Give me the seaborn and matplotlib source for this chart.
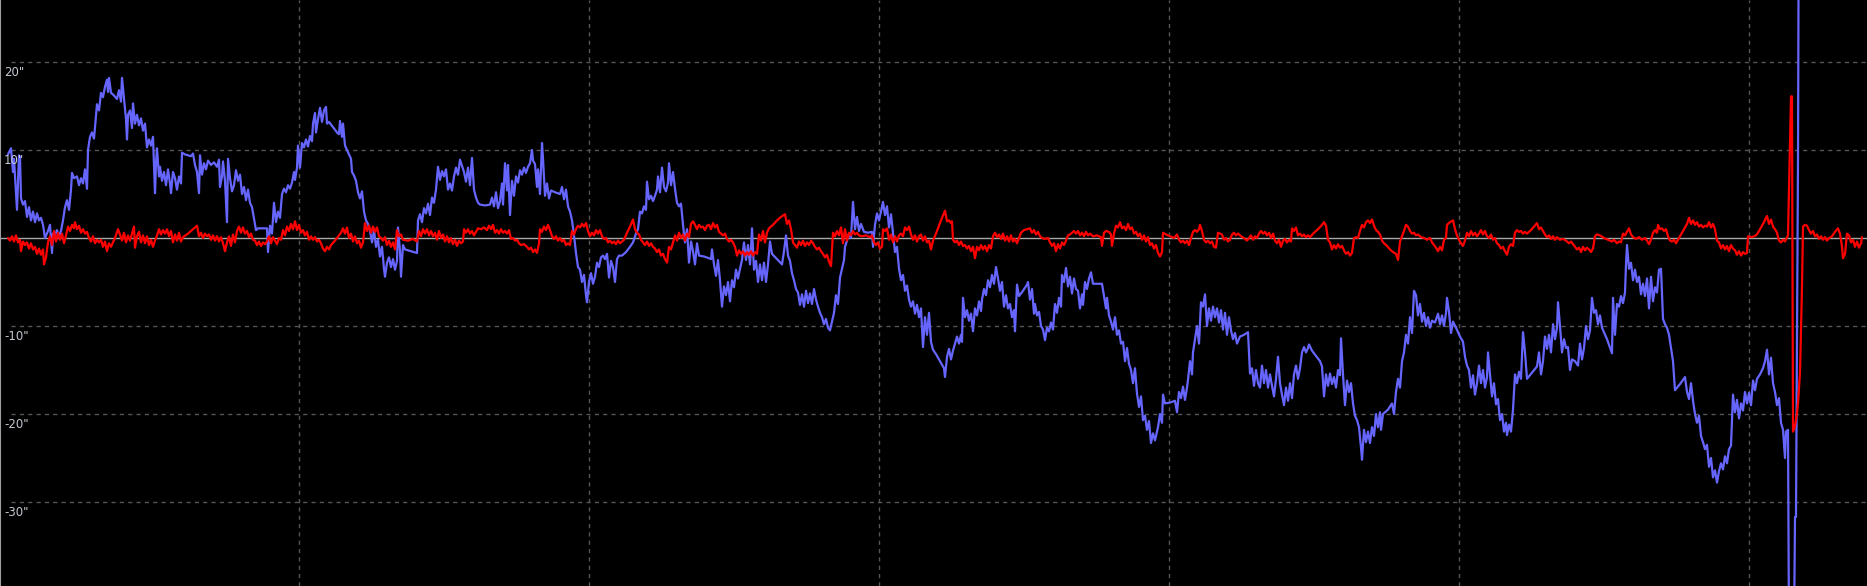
import matplotlib
matplotlib.use('Agg')
import matplotlib.pyplot as plt
import pandas as pd
import seaborn as sns

# guiding error traces: (sample position, offset in arc-seconds)
blue_pts = [
    (8, 9.5), (11, 10.2), (13, 7.5), (14, 9.0), (16, 5.0), (17, 3.2), (19, 9.4), (20, 9.2), (21, 4.5), (23, 3.8),
    (25, 4.2), (27, 2.4), (29, 3.5), (31, 2.0), (33, 3.0), (35, 1.8), (37, 2.8), (39, 2.0), (41, 2.3), (43, 1.5),
    (45, 0.0), (48, 0.8), (50, 1.5), (52, -1.7), (53, 0.5), (55, 0.3), (57, 0.9), (59, 0.2), (61, 0.8), (63, 2.0),
    (65, 3.5), (67, 4.3), (69, 3.2), (71, 5.5), (72, 7.4), (74, 6.8), (77, 7.0), (79, 6.0), (81, 6.8), (83, 6.2),
    (85, 7.8), (87, 5.6), (88, 10.0), (90, 11.5), (92, 12.0), (94, 11.3), (96, 14.0), (97, 15.2), (99, 14.5),
    (101, 16.5), (103, 16.0), (105, 17.2), (107, 18.0), (108, 16.6), (109, 18.2), (111, 16.5), (114, 16.2),
    (117, 15.8), (119, 16.8), (121, 15.5), (122, 18.2), (124, 15.8), (126, 13.5), (127, 11.2), (128, 14.0),
    (130, 14.5), (132, 12.5), (133, 15.3), (135, 13.0), (137, 14.0), (139, 12.8), (141, 13.6), (143, 12.2),
    (145, 13.0), (147, 10.3), (149, 11.2), (151, 10.5), (153, 11.5), (155, 5.1), (156, 8.5), (157, 10.2),
    (159, 7.0), (160, 8.1), (162, 6.5), (164, 7.5), (166, 6.0), (168, 7.8), (170, 6.2), (171, 5.1), (173, 7.5),
    (175, 6.8), (177, 5.5), (179, 7.0), (181, 6.2), (182, 9.7), (185, 9.5), (188, 9.4), (191, 9.3), (193, 9.6),
    (195, 8.3), (197, 7.5), (199, 5.1), (200, 9.4), (202, 7.2), (204, 8.5), (206, 7.8), (208, 8.8), (211, 8.3),
    (214, 8.6), (217, 8.1), (219, 8.9), (220, 5.8), (222, 7.0), (223, 8.7), (225, 6.5), (227, 1.8), (228, 9.0),
    (230, 6.8), (232, 5.3), (234, 6.0), (236, 7.7), (238, 6.5), (240, 7.2), (242, 5.0), (244, 5.8), (246, 4.3),
    (248, 5.5), (250, 4.0), (252, 3.5), (254, 2.2), (256, 0.9), (258, 1.1), (263, 1.1), (267, 1.1), (268, -1.6),
    (270, 1.4), (272, 0.5), (274, 4.0), (276, 1.8), (278, 3.0), (280, 2.3), (282, 5.0), (284, 5.6), (286, 5.2),
    (288, 6.0), (290, 5.6), (292, 6.3), (294, 7.5), (295, 6.6), (297, 8.0), (298, 10.5), (300, 8.0), (302, 10.8),
    (304, 10.3), (306, 11.2), (308, 10.4), (310, 11.6), (312, 11.0), (313, 13.0), (315, 14.2), (316, 12.0),
    (318, 13.5), (320, 14.8), (322, 13.2), (324, 14.5), (326, 14.9), (327, 13.0), (329, 13.2), (333, 12.6),
    (337, 12.0), (339, 11.8), (340, 13.3), (342, 11.5), (343, 13.0), (345, 10.5), (347, 10.0), (349, 9.5),
    (351, 9.0), (352, 7.5), (354, 7.1), (356, 6.5), (358, 5.2), (360, 4.5), (362, 5.3), (364, 3.0), (366, 2.0),
    (368, 1.6), (370, 0.8), (372, -0.5), (374, 0.9), (376, -1.0), (378, -0.2), (380, -2.1), (382, -1.0),
    (384, -3.5), (385, -4.4), (387, -2.8), (389, -2.2), (391, -3.3), (393, -2.4), (395, -3.6), (397, -2.6),
    (398, 1.2), (400, -1.5), (401, -4.4), (403, -0.8), (405, -1.3), (411, -1.5), (417, -1.7), (418, 2.0),
    (420, 2.7), (422, 1.8), (424, 3.4), (426, 2.8), (428, 3.9), (430, 2.6), (432, 4.6), (434, 4.0), (436, 5.5),
    (438, 8.1), (440, 6.6), (442, 7.6), (444, 7.0), (446, 7.8), (448, 5.5), (450, 6.2), (452, 5.4), (454, 7.0),
    (456, 8.0), (458, 7.2), (460, 8.9), (462, 8.2), (464, 7.5), (466, 6.4), (468, 8.0), (470, 6.0), (472, 9.1),
    (474, 5.5), (476, 4.6), (478, 4.0), (480, 3.8), (485, 3.7), (490, 3.8), (492, 4.6), (494, 3.6), (496, 5.2),
    (498, 3.4), (500, 4.2), (502, 6.2), (503, 3.8), (505, 8.5), (507, 5.4), (508, 8.3), (510, 2.6), (512, 6.5),
    (514, 4.8), (516, 7.0), (518, 6.3), (520, 7.7), (522, 7.2), (524, 8.0), (526, 7.4), (528, 8.1), (530, 8.5),
    (532, 10.0), (533, 8.8), (535, 8.4), (537, 5.8), (538, 7.8), (540, 5.0), (542, 10.8), (543, 9.0), (545, 4.8),
    (547, 6.2), (549, 4.5), (551, 5.4), (555, 5.2), (560, 5.0), (562, 5.8), (564, 4.4), (566, 5.5), (568, 3.6),
    (570, 3.0), (572, 2.0), (574, 0.3), (576, -1.7), (578, -3.3), (580, -3.6), (582, -5.0), (584, -4.2),
    (586, -6.5), (587, -7.3), (589, -5.0), (591, -4.0), (593, -5.2), (595, -4.4), (597, -2.8), (599, -3.3),
    (601, -2.2), (603, -2.0), (605, -2.4), (607, -1.8), (609, -4.5), (611, -2.6), (613, -3.3), (615, -5.0),
    (617, -2.4), (619, -2.0), (622, -2.0), (626, -1.6), (630, -1.0), (633, -0.5), (636, 0.5), (638, 1.0),
    (640, 3.0), (642, 2.8), (644, 3.6), (646, 3.2), (647, 6.4), (649, 4.4), (651, 4.8), (653, 4.2), (655, 4.8),
    (657, 5.5), (658, 7.0), (660, 5.2), (662, 8.0), (664, 5.8), (666, 5.3), (668, 6.3), (669, 8.5), (671, 6.0),
    (673, 7.5), (675, 5.6), (677, 4.0), (679, 3.6), (681, 3.9), (683, 1.5), (685, -0.5), (687, 1.0), (689, -2.8),
    (691, -0.4), (693, -1.5), (695, -3.0), (697, -0.6), (699, -2.0), (704, -2.1), (709, -2.3), (711, -2.4),
    (712, -1.3), (714, -3.0), (716, -4.3), (718, -2.5), (720, -4.8), (722, -7.8), (724, -5.5), (726, -6.5),
    (728, -5.0), (730, -7.2), (732, -4.8), (734, -5.6), (736, -3.6), (738, -4.6), (740, -3.5), (742, -2.5),
    (744, -0.5), (746, -2.5), (748, -0.8), (750, -3.0), (751, -1.2), (752, 1.1), (754, -3.6), (756, -2.6),
    (758, -5.0), (760, -3.0), (762, -4.8), (764, -2.8), (766, -5.0), (768, -3.0), (770, -0.4), (772, -1.8),
    (777, -2.4), (782, -3.0), (784, -1.5), (786, 0.3), (788, -2.0), (790, -2.6), (792, -4.0), (794, -4.8),
    (796, -5.8), (798, -6.2), (800, -7.6), (802, -6.4), (804, -7.8), (806, -6.0), (808, -7.4), (810, -6.3),
    (812, -7.5), (814, -5.8), (816, -7.0), (818, -7.8), (820, -8.5), (822, -9.0), (824, -9.8), (826, -9.2),
    (828, -10.2), (830, -10.5), (832, -9.5), (834, -8.5), (836, -6.5), (838, -7.5), (840, -4.5), (842, -3.5),
    (844, -2.5), (845, -1.0), (847, -0.3), (849, 0.5), (851, 0.0), (853, 4.1), (855, 1.0), (857, 2.4), (859, 0.8),
    (861, 1.6), (864, 0.7), (868, 0.6), (872, 0.7), (873, -1.0), (875, 1.5), (877, 2.8), (879, 2.0), (881, 3.0),
    (883, 4.1), (885, 2.6), (887, 3.6), (889, 1.2), (891, 2.7), (893, 0.5), (895, -1.6), (897, -1.0), (899, -3.5),
    (901, -4.8), (903, -4.2), (905, -6.0), (907, -5.4), (909, -7.0), (911, -7.8), (913, -7.2), (915, -8.6),
    (917, -7.6), (919, -9.0), (921, -8.0), (923, -12.4), (925, -9.0), (927, -11.0), (929, -8.5), (931, -11.8),
    (933, -12.7), (936, -13.2), (939, -13.8), (942, -14.4), (944, -14.8), (945, -15.8), (947, -13.5),
    (949, -12.6), (951, -13.8), (953, -12.8), (955, -12.0), (957, -11.2), (959, -12.0), (961, -11.0),
    (962, -11.8), (963, -6.8), (965, -9.0), (967, -8.2), (969, -9.4), (971, -8.6), (972, -9.6), (973, -10.6),
    (975, -8.0), (977, -8.8), (979, -7.2), (981, -8.3), (982, -7.0), (984, -5.8), (986, -6.5), (988, -4.8),
    (990, -5.6), (992, -4.2), (994, -5.2), (996, -3.3), (998, -4.6), (1000, -6.0), (1002, -5.0), (1004, -7.8),
    (1006, -6.5), (1008, -8.0), (1010, -7.5), (1012, -9.0), (1014, -8.2), (1015, -10.6), (1017, -5.3),
    (1019, -6.6), (1023, -6.0), (1027, -5.3), (1028, -5.0), (1030, -7.0), (1032, -5.8), (1034, -8.6),
    (1035, -7.5), (1037, -8.8), (1039, -8.4), (1041, -10.0), (1043, -10.4), (1045, -11.6), (1047, -10.2),
    (1049, -10.6), (1051, -9.6), (1053, -10.4), (1055, -7.5), (1057, -8.5), (1059, -6.8), (1061, -7.8),
    (1062, -4.2), (1064, -5.0), (1066, -3.4), (1068, -5.5), (1070, -4.4), (1072, -6.3), (1074, -4.6),
    (1076, -5.8), (1078, -6.0), (1080, -8.0), (1082, -6.4), (1083, -7.6), (1085, -5.0), (1087, -5.8),
    (1089, -4.6), (1091, -3.9), (1093, -5.2), (1098, -5.2), (1102, -5.2), (1104, -6.6), (1106, -8.0),
    (1107, -6.8), (1109, -8.8), (1111, -9.5), (1113, -10.4), (1115, -9.0), (1117, -11.0), (1119, -10.5),
    (1121, -12.0), (1123, -11.8), (1125, -14.0), (1127, -12.5), (1129, -14.3), (1131, -15.0), (1133, -16.5),
    (1135, -14.8), (1137, -17.7), (1139, -19.2), (1141, -18.0), (1143, -20.7), (1145, -20.2), (1147, -21.8),
    (1149, -20.8), (1151, -23.3), (1153, -22.2), (1155, -23.0), (1157, -22.0), (1158, -21.5), (1160, -20.0),
    (1162, -21.0), (1163, -17.8), (1165, -18.8), (1170, -18.7), (1175, -18.5), (1177, -19.8), (1179, -17.5),
    (1181, -18.2), (1183, -16.9), (1185, -18.4), (1187, -17.0), (1188, -16.1), (1190, -14.0), (1192, -15.5),
    (1193, -13.0), (1195, -11.5), (1197, -10.0), (1199, -12.0), (1200, -9.7), (1201, -7.3), (1203, -7.8),
    (1205, -6.4), (1207, -10.0), (1209, -8.0), (1211, -9.4), (1213, -7.8), (1215, -9.0), (1217, -8.0),
    (1219, -9.6), (1221, -8.2), (1223, -10.4), (1225, -8.5), (1227, -11.0), (1229, -9.0), (1231, -10.5),
    (1233, -11.5), (1235, -10.8), (1237, -12.0), (1240, -11.2), (1244, -11.0), (1248, -10.7), (1250, -15.4),
    (1252, -14.8), (1254, -16.8), (1256, -15.0), (1258, -16.5), (1260, -17.0), (1262, -14.5), (1264, -16.5),
    (1266, -15.0), (1268, -17.0), (1270, -15.5), (1272, -16.8), (1274, -18.0), (1276, -16.0), (1278, -13.5),
    (1280, -16.5), (1282, -17.8), (1284, -19.0), (1286, -17.0), (1288, -18.5), (1290, -16.5), (1292, -18.2),
    (1294, -15.5), (1296, -14.5), (1298, -16.0), (1300, -14.8), (1302, -13.0), (1304, -12.4), (1306, -13.0),
    (1308, -12.5), (1309, -12.1), (1312, -12.8), (1316, -13.4), (1320, -14.0), (1322, -14.6), (1324, -18.0),
    (1326, -15.5), (1328, -16.8), (1330, -15.4), (1332, -16.6), (1334, -15.8), (1336, -17.0), (1338, -15.0),
    (1340, -15.6), (1341, -11.4), (1343, -15.5), (1345, -19.0), (1347, -16.2), (1349, -17.5), (1351, -16.5),
    (1353, -18.8), (1355, -20.2), (1357, -20.7), (1359, -21.5), (1361, -23.8), (1362, -25.2), (1364, -21.8),
    (1366, -23.2), (1368, -22.0), (1370, -23.3), (1372, -21.5), (1374, -22.5), (1376, -20.0), (1378, -21.5),
    (1380, -19.8), (1381, -21.8), (1383, -20.0), (1388, -19.5), (1392, -18.8), (1394, -20.0), (1396, -17.5),
    (1398, -16.0), (1400, -17.0), (1402, -14.0), (1404, -13.0), (1406, -11.0), (1408, -12.0), (1410, -9.0),
    (1412, -10.8), (1414, -6.0), (1416, -6.5), (1418, -8.8), (1420, -7.5), (1422, -9.5), (1424, -8.5),
    (1426, -10.0), (1428, -9.0), (1430, -10.2), (1432, -9.4), (1435, -9.6), (1438, -8.6), (1440, -9.8),
    (1442, -8.8), (1444, -10.0), (1446, -8.5), (1447, -6.8), (1449, -8.4), (1451, -10.8), (1453, -9.5),
    (1456, -10.2), (1460, -11.2), (1463, -11.8), (1465, -13.5), (1467, -14.5), (1469, -15.0), (1471, -17.0),
    (1473, -15.6), (1475, -17.8), (1477, -16.5), (1479, -14.5), (1481, -16.5), (1483, -15.0), (1485, -17.0),
    (1487, -15.8), (1488, -13.0), (1490, -15.5), (1492, -18.0), (1494, -16.5), (1496, -18.9), (1498, -18.3),
    (1500, -20.7), (1502, -20.0), (1504, -22.0), (1506, -21.0), (1507, -22.4), (1509, -21.2), (1511, -22.0),
    (1513, -19.5), (1515, -15.5), (1517, -16.5), (1519, -15.2), (1521, -16.0), (1523, -10.7), (1525, -13.0),
    (1527, -16.0), (1532, -15.3), (1537, -14.6), (1539, -13.0), (1541, -15.5), (1543, -14.0), (1545, -11.2),
    (1547, -12.6), (1549, -11.0), (1551, -13.0), (1553, -9.8), (1555, -11.5), (1557, -10.2), (1558, -7.3),
    (1560, -10.0), (1562, -13.0), (1564, -11.5), (1566, -12.5), (1568, -12.4), (1570, -15.0), (1572, -13.8),
    (1575, -14.0), (1578, -14.5), (1580, -12.0), (1582, -13.8), (1584, -12.5), (1586, -10.0), (1588, -11.5),
    (1590, -10.5), (1592, -6.8), (1594, -8.5), (1596, -8.2), (1598, -9.8), (1600, -8.8), (1602, -10.2),
    (1607, -11.5), (1612, -13.1), (1613, -6.8), (1615, -11.0), (1617, -7.5), (1619, -7.8), (1621, -6.6),
    (1623, -7.4), (1625, -6.2), (1626, -3.0), (1627, -0.8), (1629, -3.5), (1631, -2.8), (1633, -4.8),
    (1635, -3.6), (1637, -5.0), (1639, -4.4), (1641, -6.4), (1643, -5.2), (1645, -6.6), (1647, -4.6),
    (1649, -8.0), (1651, -4.4), (1653, -7.2), (1655, -5.6), (1657, -6.2), (1659, -3.6), (1661, -3.5),
    (1663, -9.2), (1665, -9.8), (1667, -10.2), (1669, -11.0), (1671, -12.5), (1673, -14.0), (1675, -17.3),
    (1680, -16.6), (1685, -15.8), (1687, -17.5), (1689, -18.3), (1691, -16.5), (1693, -18.5), (1695, -20.0),
    (1697, -21.0), (1699, -20.2), (1701, -22.5), (1703, -23.2), (1705, -24.0), (1707, -23.5), (1709, -26.0),
    (1711, -25.0), (1713, -27.2), (1715, -26.4), (1717, -27.8), (1719, -26.5), (1721, -25.6), (1723, -26.3),
    (1725, -24.8), (1727, -25.6), (1729, -24.0), (1731, -23.6), (1733, -17.8), (1735, -19.8), (1737, -18.4),
    (1739, -20.5), (1741, -18.8), (1743, -19.6), (1745, -17.5), (1747, -18.8), (1749, -17.6), (1751, -19.0),
    (1753, -16.2), (1755, -17.3), (1757, -16.0), (1760, -15.5), (1763, -14.8), (1765, -14.0), (1767, -12.7),
    (1769, -15.5), (1771, -13.6), (1773, -16.5), (1775, -17.5), (1777, -19.0), (1779, -18.2), (1781, -21.0),
    (1783, -21.8), (1785, -25.0), (1786, -22.0), (1788, -21.8), (1789, -45.0), (1794, -45.0), (1795, -31.7),
    (1796, -31.7), (1797, -10.1), (1798, 9.1), (1799, 45.0),
]

red_pts = [
    (8, 0.0), (10, -0.3), (12, 0.2), (14, -0.4), (16, 0.3), (18, -0.5), (20, -0.2), (21, -1.5), (23, -0.4),
    (25, -0.8), (27, -0.5), (29, -1.2), (31, -0.6), (33, -1.3), (35, -1.0), (37, -1.8), (39, -1.2), (41, -1.9),
    (43, -1.3), (44, -3.0), (46, -2.2), (48, -0.5), (50, 0.2), (52, -0.8), (54, 0.8), (56, -0.4), (58, 0.6),
    (60, -0.2), (62, 0.5), (64, -0.6), (66, 0.3), (68, 1.3), (70, 0.8), (72, 1.5), (74, 1.1), (75, 1.8),
    (77, 1.0), (79, 1.4), (81, 0.6), (83, 1.0), (85, 0.5), (87, 0.7), (89, 0.0), (91, -0.4), (93, 0.2),
    (95, -0.6), (97, -0.2), (99, -0.5), (101, -0.2), (103, -1.0), (105, -0.4), (107, -1.5), (109, -0.6),
    (111, -1.0), (115, 0.0), (118, 1.0), (120, 0.4), (122, -0.3), (124, 0.6), (126, -0.5), (128, 0.3),
    (130, -0.3), (132, 0.5), (134, 1.3), (135, -1.1), (137, 0.2), (139, 0.7), (141, -0.5), (143, 0.3),
    (145, -0.6), (147, 0.2), (149, -0.8), (151, -0.2), (153, -1.0), (155, -0.3), (157, 0.3), (159, 1.0),
    (161, 0.4), (163, 0.9), (165, 0.5), (167, 1.0), (169, 0.2), (171, 0.8), (173, -0.5), (175, 0.4),
    (177, -0.3), (179, 0.6), (181, -0.4), (183, 0.1), (188, 0.5), (193, 1.0), (197, 1.4), (199, 0.2),
    (201, 0.6), (203, 0.0), (205, 0.5), (207, 0.2), (209, 0.4), (211, -0.2), (213, 0.3), (215, -0.3),
    (217, 0.2), (219, -0.4), (221, 0.1), (223, -0.6), (225, -1.5), (227, -0.5), (229, 0.2), (231, -0.9),
    (233, 0.4), (235, -0.5), (237, 0.8), (239, 1.3), (241, 0.6), (243, 1.2), (245, 0.5), (247, 0.8),
    (249, 0.1), (251, 0.5), (253, -0.2), (255, -0.3), (257, -0.8), (259, -0.4), (261, -0.9), (263, -0.5),
    (265, -0.7), (267, -0.4), (269, 0.2), (271, -0.6), (273, 0.1), (275, -0.3), (277, -0.7), (279, 0.0),
    (281, -0.2), (283, 0.9), (285, 0.3), (287, 1.3), (289, 0.8), (291, 1.6), (293, 1.0), (295, 1.9),
    (297, 0.9), (299, 1.5), (301, 0.6), (303, 0.9), (305, 0.3), (307, 0.7), (309, -0.2), (311, 0.2),
    (313, -0.2), (315, 0.1), (317, -0.4), (319, -0.2), (321, -0.6), (323, -1.2), (325, -1.5), (327, -1.0),
    (329, -1.3), (331, -0.8), (335, -0.3), (339, 0.3), (341, 0.6), (343, 1.1), (345, 0.5), (347, 1.2),
    (349, 0.0), (351, 0.5), (353, -0.4), (355, 0.2), (357, -0.6), (359, -0.3), (361, -1.1), (363, -0.5),
    (365, 1.7), (367, 0.8), (369, 1.4), (371, 0.6), (373, 1.3), (375, 0.7), (377, 1.2), (379, 0.2),
    (381, 0.0), (383, -0.3), (385, 0.1), (387, -0.8), (389, -0.3), (391, -1.0), (393, -0.5), (395, -1.3),
    (397, 0.9), (399, 0.2), (401, 0.4), (403, -0.2), (408, -0.3), (413, -0.1), (417, -0.4), (419, 0.8),
    (421, 0.2), (423, 1.0), (425, 0.5), (427, 1.0), (429, 0.3), (431, 0.8), (433, 0.2), (435, 0.6),
    (437, -0.2), (439, 0.8), (441, 0.0), (443, 0.4), (445, -0.4), (447, 0.2), (449, -0.5), (451, 0.0),
    (453, -0.7), (455, -0.2), (457, -0.9), (459, -0.3), (461, -0.6), (463, -0.4), (464, 1.0), (466, 0.6),
    (468, 1.0), (470, 0.5), (472, 0.8), (474, 0.3), (476, 0.7), (478, 1.1), (481, 1.0), (484, 1.2),
    (487, 0.9), (489, 1.4), (491, 1.0), (493, 1.5), (495, 0.6), (497, 0.9), (499, 0.5), (501, 1.0),
    (503, 0.6), (505, 0.8), (507, 0.5), (509, 0.9), (511, -0.1), (513, 0.0), (515, -0.3), (517, -0.2),
    (519, -0.6), (521, -0.8), (524, -0.7), (527, -1.0), (529, -1.3), (531, -1.1), (533, -1.6), (535, -1.3),
    (537, -1.7), (539, -0.6), (540, 1.0), (542, 0.7), (544, 1.3), (546, 0.9), (548, 1.5), (550, 0.9),
    (552, 0.2), (554, -0.1), (556, 0.2), (558, -0.3), (560, 0.0), (562, -0.4), (564, -0.2), (566, -0.8),
    (568, -0.6), (570, -0.8), (572, 0.8), (574, 0.4), (576, 1.0), (578, 1.4), (580, 1.2), (582, 1.6),
    (584, 1.3), (586, 1.7), (588, 0.8), (590, 0.2), (592, 0.6), (594, 0.3), (596, 0.9), (598, 0.5),
    (600, 0.9), (602, 0.2), (604, -0.1), (606, 0.0), (608, -0.5), (610, -0.3), (612, -0.6), (614, -0.4),
    (616, -0.7), (618, -0.3), (620, -0.6), (622, -0.4), (624, -0.2), (627, 0.6), (630, 1.3), (633, 2.1),
    (635, 1.0), (637, 0.6), (639, 0.4), (641, -0.2), (643, -0.5), (645, -0.8), (647, -0.4), (649, -0.9),
    (651, -0.6), (653, -1.0), (655, -1.2), (657, -1.6), (659, -1.3), (661, -2.0), (663, -1.8), (665, -2.4),
    (667, -2.8), (669, -1.0), (671, -1.3), (673, -0.5), (675, 0.3), (677, -0.3), (679, 0.6), (681, 0.0),
    (683, 0.4), (685, -0.3), (687, 0.5), (689, 0.1), (691, 1.6), (693, 1.9), (695, 1.5), (697, 1.0),
    (699, 1.5), (701, 1.2), (703, 1.3), (705, 0.9), (707, 1.4), (709, 1.5), (711, 1.0), (713, 1.7),
    (715, 1.2), (717, 1.5), (719, 0.7), (721, 0.5), (723, 0.3), (725, 0.5), (727, -0.1), (729, -0.4),
    (731, -0.2), (733, -0.5), (735, -1.0), (737, -2.0), (739, -1.4), (741, -1.8), (743, -1.5), (745, -2.0),
    (747, -1.6), (749, -1.9), (751, -1.5), (753, -2.0), (755, -1.6), (757, -1.8), (759, 0.4), (761, -0.3),
    (763, 0.8), (765, -0.5), (767, 0.6), (769, 1.1), (773, 1.5), (777, 2.0), (781, 2.4), (785, 2.7),
    (787, 1.6), (789, 2.0), (791, 1.0), (793, -0.5), (795, -0.8), (797, -1.1), (799, -0.4), (801, -0.8),
    (803, -0.3), (805, -0.9), (807, -0.5), (809, -0.8), (811, -0.3), (813, -0.6), (815, -1.0), (817, -1.3),
    (819, -1.1), (821, -1.5), (823, -1.8), (825, -2.2), (827, -1.9), (829, -2.7), (831, -3.2), (833, 0.6),
    (835, 0.2), (837, 0.8), (839, 0.3), (841, 1.2), (843, -0.6), (845, 1.0), (847, -0.3), (849, 0.6),
    (851, 0.3), (853, 0.8), (855, 0.4), (857, 0.6), (859, 0.3), (862, 0.2), (866, 0.3), (870, 0.1),
    (872, 0.3), (874, -0.5), (876, -0.8), (878, -0.5), (880, -1.2), (882, -1.0), (883, 1.0), (885, 0.8),
    (887, 1.1), (889, -0.2), (891, 0.4), (893, -0.5), (895, 0.2), (897, -0.4), (899, 0.3), (901, 0.5),
    (903, 0.2), (905, 1.2), (907, 0.9), (909, 1.3), (911, 0.4), (913, -0.2), (915, 0.3), (917, -0.4),
    (919, 0.2), (921, 0.4), (923, -0.3), (925, 0.2), (927, -0.5), (929, -0.3), (931, -1.3), (933, -0.3),
    (936, 0.5), (939, 1.4), (942, 2.3), (945, 3.1), (947, 1.9), (949, 2.0), (951, 1.7), (952, 1.9),
    (953, -0.2), (955, -0.5), (957, -0.3), (959, -0.8), (961, -0.4), (963, -0.9), (965, -0.8), (967, -1.2),
    (969, -0.9), (971, -1.5), (973, -1.0), (975, -2.3), (977, -1.0), (979, -1.4), (981, -0.8), (983, -1.3),
    (985, -0.9), (987, -1.5), (989, -0.8), (991, -1.2), (993, 0.2), (995, 0.6), (997, 0.1), (999, 0.4),
    (1001, -0.1), (1003, 0.5), (1005, -0.3), (1007, 0.2), (1009, -0.4), (1011, 0.3), (1013, -0.4),
    (1015, -0.1), (1017, -0.6), (1019, 0.0), (1021, 0.6), (1024, 0.9), (1027, 1.0), (1030, 1.1), (1032, 0.6),
    (1034, 0.9), (1036, 0.4), (1038, 0.7), (1040, 0.2), (1042, 0.0), (1045, -0.1), (1048, 0.0), (1050, -0.5),
    (1052, -0.9), (1054, -0.6), (1056, -1.5), (1058, -0.7), (1060, -1.2), (1062, -0.5), (1064, -0.8),
    (1066, -0.3), (1068, 0.3), (1070, 0.4), (1072, 0.6), (1074, 0.8), (1076, 0.5), (1078, 0.8), (1080, 0.3),
    (1082, 0.6), (1084, 0.2), (1086, 0.7), (1088, 0.3), (1090, 0.5), (1093, 0.2), (1097, 0.3), (1101, 0.1),
    (1102, -0.9), (1104, 0.6), (1106, 0.8), (1109, 0.7), (1111, 0.4), (1112, -0.9), (1114, 0.5), (1116, 1.4),
    (1118, 1.2), (1120, 1.8), (1122, 1.1), (1124, 1.3), (1126, 0.9), (1128, 1.6), (1130, 1.0), (1132, 1.2),
    (1134, 0.5), (1136, 0.7), (1138, 0.2), (1140, 0.5), (1142, -0.2), (1144, 0.3), (1146, -0.4), (1148, 0.1),
    (1150, -0.8), (1152, -0.6), (1154, -1.2), (1156, -0.8), (1158, -1.7), (1160, -2.1), (1162, -1.6),
    (1163, 0.6), (1166, 0.4), (1170, 0.2), (1174, 0.0), (1177, 0.4), (1179, -0.2), (1181, -0.5), (1183, -0.3),
    (1185, -0.6), (1187, -0.3), (1189, -0.8), (1191, 0.0), (1193, 0.7), (1195, 0.9), (1197, 0.7), (1199, 1.0),
    (1200, 1.5), (1202, 0.8), (1204, -0.2), (1206, -0.5), (1208, -0.3), (1210, -0.6), (1212, -0.4),
    (1214, -1.0), (1216, -1.1), (1218, 0.6), (1220, 0.5), (1222, 0.4), (1224, -0.2), (1226, 0.0), (1228, -0.4),
    (1230, -0.2), (1232, 0.4), (1234, 0.6), (1236, 0.3), (1238, 0.5), (1241, 0.2), (1244, 0.0), (1247, -0.3),
    (1249, 0.0), (1251, 0.3), (1253, -0.2), (1255, 0.2), (1257, 0.0), (1259, 0.5), (1261, 0.8), (1263, 0.5),
    (1265, 0.7), (1267, 0.3), (1269, 0.6), (1271, 0.0), (1273, 0.5), (1275, -0.3), (1277, -0.6), (1279, -0.2),
    (1281, -1.0), (1283, -0.3), (1285, -0.1), (1287, -0.5), (1289, -0.2), (1291, -0.4), (1292, 1.1),
    (1294, 0.8), (1296, 1.2), (1298, 0.3), (1300, 0.5), (1302, 0.2), (1304, 0.4), (1306, 0.1), (1308, 0.3),
    (1310, 0.1), (1314, 0.6), (1318, 1.0), (1322, 1.5), (1324, 1.8), (1326, 1.4), (1328, -0.2), (1330, -0.5),
    (1332, -1.3), (1334, -0.8), (1336, -1.2), (1338, -0.7), (1340, -1.1), (1342, -0.9), (1344, -1.4),
    (1346, -1.8), (1348, -1.6), (1350, -2.0), (1352, -1.7), (1354, 0.0), (1356, 0.1), (1358, 0.0), (1360, 0.8),
    (1362, 1.5), (1364, 1.2), (1366, 1.8), (1368, 2.0), (1370, 1.7), (1372, 2.1), (1374, 1.4), (1376, 0.9),
    (1378, 0.7), (1380, 0.4), (1382, -0.3), (1384, -0.6), (1387, -0.9), (1390, -1.3), (1393, -1.6),
    (1396, -1.8), (1398, -2.5), (1400, -0.4), (1402, 0.2), (1404, 0.8), (1406, 1.5), (1408, 1.3), (1410, 0.8),
    (1412, 0.5), (1414, 0.6), (1416, 0.3), (1418, 0.4), (1421, 0.1), (1424, 0.0), (1427, -0.2), (1430, 0.0),
    (1432, -0.5), (1434, -0.8), (1436, -1.1), (1438, -1.5), (1440, -1.0), (1442, -1.4), (1444, -0.2),
    (1446, 0.0), (1447, 1.5), (1450, 1.8), (1453, 2.0), (1455, 1.0), (1457, 0.3), (1459, -0.2), (1461, -0.6),
    (1463, -0.9), (1465, -0.3), (1467, 0.6), (1469, 0.2), (1471, 0.8), (1473, 0.3), (1475, 0.6), (1477, 0.2),
    (1479, 0.5), (1481, 0.9), (1483, 0.4), (1485, 0.8), (1487, 0.2), (1489, 0.0), (1491, 0.4), (1493, -0.2),
    (1495, 0.0), (1497, -0.6), (1499, -0.8), (1501, -1.2), (1503, -1.0), (1505, -1.5), (1507, -1.9),
    (1509, -1.0), (1511, -0.7), (1513, -0.9), (1515, 0.6), (1517, 0.9), (1519, 0.7), (1521, 0.8), (1523, 0.5),
    (1525, 0.7), (1527, 0.5), (1531, 0.9), (1534, 1.3), (1537, 1.7), (1539, 1.0), (1541, 1.2), (1543, 0.8),
    (1545, 0.4), (1547, 0.1), (1549, 0.3), (1551, -0.1), (1553, 0.2), (1555, -0.2), (1557, 0.1), (1560, -0.2),
    (1563, -0.1), (1566, -0.3), (1569, -0.6), (1571, -0.4), (1573, -0.7), (1575, -1.0), (1577, -1.3),
    (1579, -1.1), (1581, -1.6), (1583, -1.0), (1585, -1.4), (1587, -1.1), (1589, -1.3), (1591, -1.6),
    (1593, -1.2), (1595, 0.2), (1597, 0.4), (1600, 0.3), (1604, 0.0), (1608, -0.2), (1612, -0.4),
    (1614, -0.2), (1617, -0.6), (1619, -0.4), (1621, -0.5), (1623, 0.5), (1625, 0.3), (1627, 0.7),
    (1629, 1.1), (1631, 0.4), (1633, 0.1), (1636, -0.1), (1639, 0.1), (1642, -0.2), (1645, 0.0), (1647, -0.3),
    (1649, -0.7), (1651, -0.2), (1653, 0.6), (1655, 0.9), (1657, 0.6), (1658, 1.5), (1660, 1.0), (1662, 1.1),
    (1664, 0.8), (1666, 1.0), (1668, 0.2), (1670, -0.3), (1672, -0.4), (1674, -0.2), (1676, -0.6),
    (1678, -0.2), (1681, 0.4), (1684, 1.0), (1687, 1.6), (1689, 2.3), (1691, 1.6), (1693, 2.0), (1695, 1.5),
    (1697, 1.8), (1699, 1.3), (1701, 1.5), (1703, 1.2), (1705, 1.4), (1707, 1.3), (1709, 1.8), (1711, 1.2),
    (1713, 1.6), (1715, 1.0), (1717, -0.3), (1719, -0.5), (1721, -1.2), (1723, -0.8), (1725, -1.3),
    (1727, -0.9), (1729, -1.5), (1731, -0.8), (1733, -1.2), (1735, -1.4), (1737, -1.9), (1739, -1.5),
    (1741, -2.0), (1743, -1.6), (1745, -1.8), (1747, -1.7), (1748, 0.2), (1752, 0.1), (1756, 0.3), (1758, 0.6),
    (1761, 1.2), (1764, 1.8), (1766, 2.3), (1767, 2.5), (1769, 1.6), (1771, 2.1), (1773, 1.3), (1775, 1.0),
    (1777, 0.6), (1779, -0.3), (1781, -0.5), (1783, -0.2), (1785, -0.4), (1787, 0.1), (1788, 0.3),
    (1789, 5.5), (1790, 10.8), (1791, 16.1), (1792, 16.1), (1793, -22.0), (1795, -21.4), (1797, -19.9),
    (1798, -18.8), (1800, -15.3), (1802, -5.5), (1803, 1.3), (1805, 1.5), (1807, 1.4), (1809, 0.9),
    (1811, 0.5), (1813, 0.8), (1815, 0.2), (1817, 0.4), (1819, -0.1), (1821, 0.2), (1823, -0.2), (1825, 0.1),
    (1827, -0.3), (1829, 0.0), (1832, 0.2), (1835, 0.7), (1838, 1.1), (1840, 0.5), (1842, -1.0), (1843, -2.3),
    (1845, -1.8), (1847, 0.5), (1849, 0.3), (1851, -0.5), (1853, -0.2), (1855, -1.0), (1857, -0.4),
    (1859, -1.1), (1861, -0.6), (1862, 0.1),
]

y_ticks = [20, 10, -10, -20, -30]
y_labels = ['20"', '10"', '-10"', '-20"', '-30"']
x_grid = [299, 589, 879, 1169, 1459, 1749]

sns.set_style('dark')
plt.rcParams['font.family'] = ['DejaVu Sans']

fig = plt.figure(figsize=(18.67, 5.86), dpi=100, facecolor='black')
ax = fig.add_axes([0, 0, 1, 1])
ax.set_facecolor('black')

x_min, x_max = 0, 1867
y_min, y_max = -39.55, 27.05

# dashed grid, horizontal lines start a little right of the axis
grid_kw = dict(color='#555555', lw=1, ls=(0, (3, 3)), zorder=1)
for xg in x_grid:
    ax.axvline(xg, **grid_kw)
for yt in y_ticks:
    ax.axhline(yt, xmin=11 / x_max, xmax=1, **grid_kw)
ax.axhline(0, color='#a8a8a8', lw=1, zorder=2)

blue = pd.DataFrame(blue_pts, columns=['t', 'v'])
red = pd.DataFrame(red_pts, columns=['t', 'v'])
sns.lineplot(data=blue, x='t', y='v', estimator=None, sort=False,
             color='#6666ff', lw=1.6, ax=ax, zorder=3)
sns.lineplot(data=red, x='t', y='v', estimator=None, sort=False,
             color='#ff0000', lw=1.6, ax=ax, zorder=4)

ax.set_xlim(x_min, x_max)
ax.set_ylim(y_min, y_max)
ax.set_xticks([])
ax.set_yticks([])
ax.set_xlabel('')
ax.set_ylabel('')
for side in ('top', 'right', 'bottom'):
    ax.spines[side].set_visible(False)
ax.spines['left'].set_color('#a0a0a0')
ax.spines['left'].set_linewidth(1.5)

for val, lab in zip(y_ticks, y_labels):
    ax.annotate(lab, xy=(0, val), xycoords=('axes fraction', 'data'),
                xytext=(4, -4), textcoords='offset pixels',
                ha='left', va='top', fontsize=8.5, color='#c4c8d0', zorder=5)

fig.savefig('out.png', dpi=100, facecolor='black')
